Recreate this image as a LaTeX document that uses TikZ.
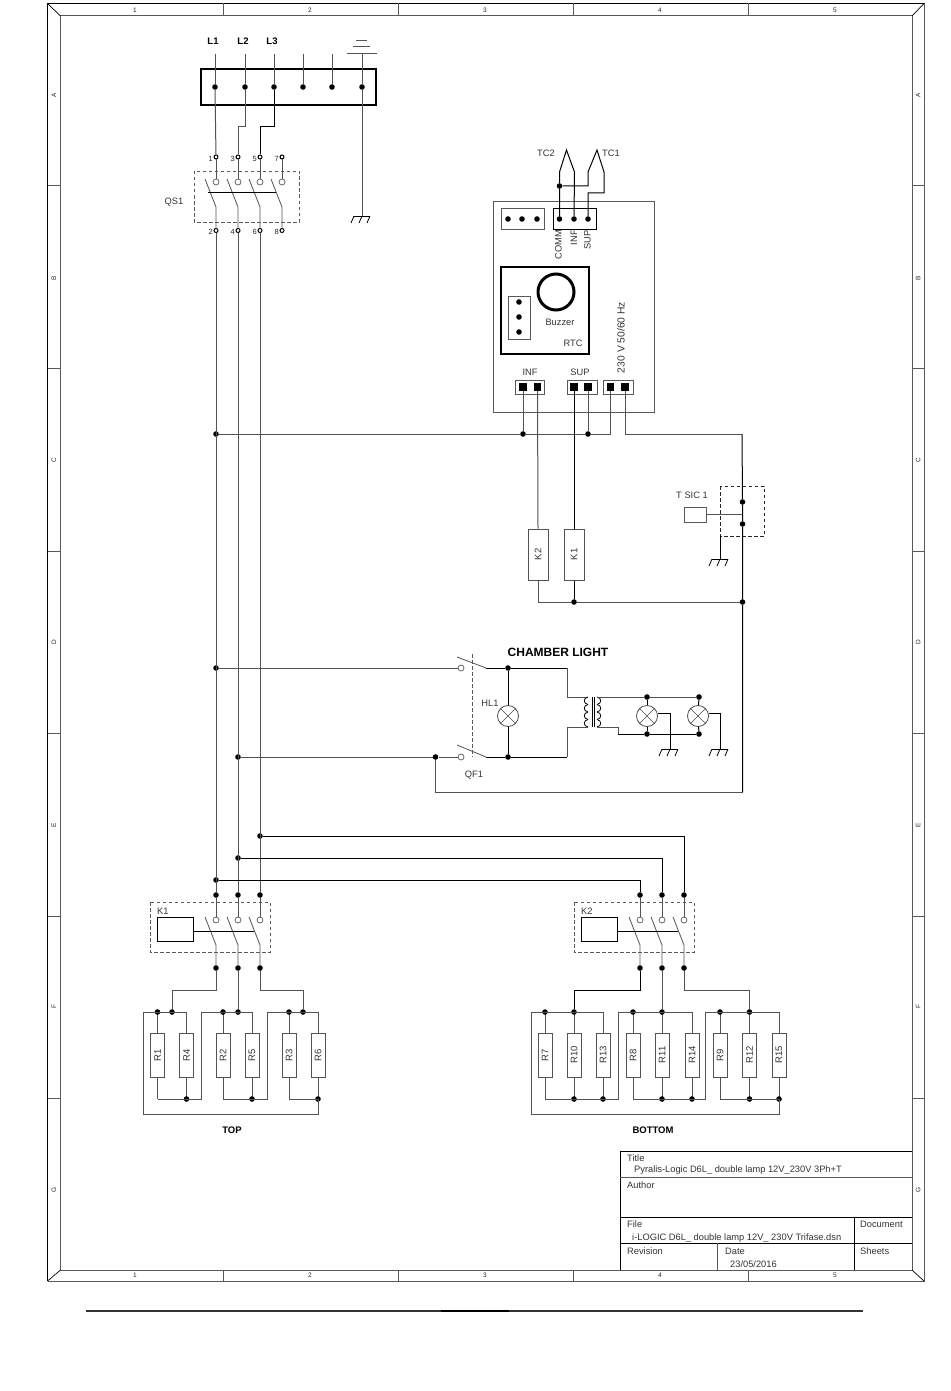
\documentclass[tikz,border=0pt]{standalone}
\usepackage{fontspec}
\setmainfont{Liberation Sans}
\begin{document}
\begin{tikzpicture}[x=1pt, y=-1pt]
  \tikzstyle{wire}=[line width=1pt, draw=black!68]
  \tikzstyle{wireb}=[line width=1pt, draw=black]
  \tikzstyle{frameline}=[line width=1pt, draw=black!65]
  \tikzstyle{dashbox}=[line width=.8pt, draw=black!65, dash pattern=on 3.5pt off 2.5pt]
  \tikzstyle{mydot}=[circle, fill=black, inner sep=0, minimum size=5.6pt]
  \tikzstyle{mypin}=[circle, draw=black, fill=white, line width=1pt, inner sep=0, minimum size=4pt]
  \tikzstyle{mycont}=[circle, draw=black!60, fill=white, line width=.8pt, inner sep=0, minimum size=6pt]
  \tikzstyle{mypad}=[rectangle, fill=black, inner sep=0, minimum size=7.5pt]
  \tikzstyle{myconn}=[rectangle, draw=black!65, line width=1pt, inner sep=0]
  \tikzstyle{myres}=[rectangle, draw=black!68, fill=white, line width=1pt, inner sep=0, rotate=90,
    minimum width=44pt, minimum height=14pt, text=black!80, font=\fontsize{9.5}{10}\selectfont]
  \tikzstyle{myrelay}=[myres, minimum width=51pt, minimum height=20pt]
  \tikzstyle{mylamp}=[circle, draw=black!70, line width=.8pt, fill=white, inner sep=0, minimum size=21pt]
  \tikzstyle{mytext}=[inner sep=0, text=black!80, font=\fontsize{9.3}{10}\selectfont]
  \tikzstyle{mybold}=[inner sep=0, text=black, font=\fontsize{9.5}{10}\selectfont\bfseries]
  \tikzstyle{mysmall}=[inner sep=0, text=black!85, font=\fontsize{6.5}{8}\selectfont]
  \tikzstyle{mynum}=[inner sep=0, text=black!85, font=\fontsize{7.5}{8}\selectfont]
  \useasboundingbox (0, 0) rectangle (950, 1391);

  % sheet frame
  \draw[line width=1.2pt] (47.5, 1281) -- (47.5, 3.5) -- (924, 3.5);
  \draw[frameline] (924, 3.5) -- (924, 1281) -- (47.5, 1281);
  \draw[frameline] (60.5, 16) rectangle (912, 1270);
  \draw[line width=.7pt] (47.5, 3.5) -- (60.5, 16);
  \draw[line width=.7pt] (924, 3.5) -- (912, 16);
  \draw[line width=.7pt] (47.5, 1281) -- (60.5, 1270);
  \draw[line width=.7pt] (924, 1281) -- (912, 1270);
  \foreach \x in {223, 398, 573, 748} {
    \draw[frameline] (\x, 3.5) -- (\x, 16);
    \draw[frameline] (\x, 1270) -- (\x, 1281);
  }
  \foreach \y in {186, 368, 551, 733, 916, 1098} {
    \draw[frameline] (47.5, \y) -- (60.5, \y);
    \draw[frameline] (912, \y) -- (924, \y);
  }
  \foreach \n/\x in {1/135, 2/310, 3/485, 4/660, 5/835} {
    \node[mysmall] (top-\n) at (\x, 10) {\n};
    \node[mysmall] (bot-\n) at (\x, 1275.5) {\n};
  }
  \foreach \n/\y in {A/95, B/278, C/460, D/642, E/825, F/1007, G/1190} {
    \node[mysmall, rotate=90] (left-\n) at (54, \y) {\n};
    \node[mysmall, rotate=90] (right-\n) at (918, \y) {\n};
  }
  \coordinate (rule-a) at (86, 1311);
  \coordinate (rule-b) at (863, 1311);
  \coordinate (rule-c) at (441, 1311);
  \coordinate (rule-d) at (509, 1311);
  \draw[line width=1.5pt, draw=black!80] (rule-a) -- (rule-b);
  \draw[line width=1.5pt] (rule-c) -- (rule-d);

  % title block
  \draw[line width=1pt] (912, 1151) -- (620, 1151) -- (620, 1270);
  \draw[frameline] (620, 1177) -- (912, 1177);
  \draw[line width=1pt] (620, 1217) -- (912, 1217);
  \draw[line width=1pt] (620, 1243) -- (912, 1243);
  \draw[line width=1pt] (854, 1217) -- (854, 1270);
  \draw[frameline] (717, 1243) -- (717, 1270);
  \node[mytext, anchor=west] (t-title) at (627, 1158) {Title};
  \node[mytext, anchor=west] (t-name) at (634, 1170.5) {Pyralis-Logic D6L\_ double lamp 12V\_230V 3Ph+T};
  \node[mytext, anchor=west] (t-author) at (627, 1185) {Author};
  \node[mytext, anchor=west] (t-file) at (627, 1224) {File};
  \node[mytext, anchor=west] (t-dsn) at (632, 1238) {i-LOGIC D6L\_ double lamp 12V\_ 230V Trifase.dsn};
  \node[mytext, anchor=west] (t-doc) at (860, 1224) {Document};
  \node[mytext, anchor=west] (t-rev) at (627, 1251) {Revision};
  \node[mytext, anchor=west] (t-date) at (725, 1251) {Date};
  \node[mytext, anchor=west] (t-day) at (730, 1264) {23/05/2016};
  \node[mytext, anchor=west] (t-sheet) at (860, 1251) {Sheets};

  % terminal block
  \draw[line width=2.4pt] (201, 69) rectangle (376, 105);
  \foreach \n/\x in {1/215, 2/245, 3/274, 4/303, 5/332, 6/362} {
    \node[mydot] (blk\n) at (\x, 87) {};
    \coordinate (in\n) at (\x, 54);
    \draw[wire] (in\n) -- (blk\n);
  }
  \node[mybold] (L1) at (213, 41) {L1};
  \node[mybold] (L2) at (243, 41) {L2};
  \node[mybold] (L3) at (272, 41) {L3};
  \draw[wire] (347, 54) -- (377, 54);
  \draw[wire] (353, 47) -- (370, 47);
  \draw[frameline, line width=.7pt] (356, 40) -- (367, 40);

  % earth symbols
  \foreach \n/\x/\y in {ea/362/216, eb/720/559, ec/670/749, ed/720/749} {
    \coordinate (\n) at (\x, \y);
    \draw[wireb, line width=.8pt] ({\x-8}, \y) -- ({\x+8}, \y);
    \foreach \d in {-8, 0, 8} {
      \draw[wireb, line width=.8pt] ({\x+\d}, \y) -- ({\x+\d-3}, {\y+7});
    }
  }
  \draw[wire] (blk6) -- (ea);

  % QS1
  \draw[dashbox] (194, 171) rectangle (299, 222);
  \node[mytext] (QS1) at (174, 202) {QS1};
  \foreach \n/\x/\a/\b in {1/216/1/2, 2/238/3/4, 3/260/5/6, 4/282/7/8} {
    \node[mypin] (qsa\n) at (\x, 157) {};
    \node[mypin] (qsb\n) at (\x, 230.5) {};
    \node[mycont] (qsc\n) at (\x, 182) {};
    \node[mynum, anchor=east] (qst\n) at ({\x-3}, 158.5) {\a};
    \node[mynum, anchor=east] (qsu\n) at ({\x-3}, 231.5) {\b};
    \coordinate (qsd\n) at (\x, 207);
    \draw[wire] (qsa\n) -- (qsc\n);
    \draw[wire, line width=.8pt] ({\x-11}, 179) -- (qsd\n) -- (qsb\n);
  }
  \draw[wireb] (208, 193) -- (276, 193);
  \draw[wire] (blk1) -- (qsa1);
  \draw[wire] (blk2) -- ++(0, 40) -| (qsa2);
  \draw[wireb] (blk3) -- ++(0, 40) -| (qsa3);

  % controller board
  \draw[myconn] (493, 201) rectangle (654, 412);
  \node[myconn, minimum width=43pt, minimum height=21pt] (con-a) at (522.5, 218.5) {};
  \node[myconn, draw=black, minimum width=43pt, minimum height=21pt] (con-b) at (574.5, 218.5) {};
  \foreach \n/\x in {a1/508, a2/522, a3/537, b1/559.5, b2/574, b3/588} {
    \node[mydot] (\n) at (\x, 219) {};
  }
  \node[mydot] (jtc) at (559.5, 186) {};
  \coordinate (tc2l) at (559.5, 172);
  \coordinate (tc2t) at (566.5, 150);
  \coordinate (tc2r) at (574.5, 172);
  \coordinate (tc1l) at (588, 172);
  \coordinate (tc1t) at (597, 150);
  \coordinate (tc1r) at (604, 172);
  \coordinate (tc1j) at (588, 186);
  \coordinate (tc1a) at (604, 193);
  \coordinate (tc1b) at (588, 193);
  \draw[wireb] (b1) -- (jtc) -- (tc2l) -- (tc2t) -- (tc2r) -- (b2);
  \draw[wireb] (b3) -- (tc1b) -- (tc1a) -- (tc1r) -- (tc1t) -- (tc1l) -- (tc1j) -- (jtc);
  \node[mytext] (TC2) at (546, 153) {TC2};
  \node[mytext] (TC1) at (611, 153) {TC1};
  \node[mytext, rotate=90, anchor=east] (l-comm) at (558.5, 230) {COMM};
  \node[mytext, rotate=90, anchor=east] (l-inf) at (574, 230) {INF};
  \node[mytext, rotate=90, anchor=east] (l-sup) at (587.5, 230) {SUP};
  \draw[line width=1.8pt] (501, 267) rectangle (589, 354);
  \node[circle, draw=black, line width=3pt, inner sep=0, minimum size=36pt] (buz) at (556, 292) {};
  \node[mytext] (l-buz) at (560, 322) {Buzzer};
  \node[mytext] (l-rtc) at (573, 343) {RTC};
  \node[myconn, minimum width=22pt, minimum height=43pt] (con-c) at (519, 317.5) {};
  \foreach \n/\y in {c1/302, c2/317, c3/332} {
    \node[mydot] (\n) at (519, \y) {};
  }
  \node[myconn, minimum width=29pt, minimum height=14pt] (con-i) at (529.5, 387) {};
  \node[myconn, minimum width=30pt, minimum height=14pt] (con-s) at (582, 387) {};
  \node[myconn, minimum width=30pt, minimum height=14pt] (con-p) at (618, 387) {};
  \foreach \n/\x in {pi1/523, pi2/537.5, ps1/574, ps2/588, pv1/610.5, pv2/625} {
    \node[mypad] (\n) at (\x, 387) {};
  }
  \node[mytext] (l-inf2) at (530, 372) {INF};
  \node[mytext] (l-sup2) at (580, 372) {SUP};
  \node[mytext, rotate=90, font=\fontsize{10.3}{11}\selectfont] (l-volt) at (621, 337.5) {230 V 50/60 Hz};

  % phases
  \node[mydot] (jl) at (216, 434) {};
  \node[mydot] (ji) at (523, 434) {};
  \node[mydot] (js) at (588, 434) {};
  \coordinate (rt) at (742, 434);
  \draw[wire] (jl) -- (ji) -- (js) -| (pv1);
  \draw[wire] (pi1) -- (ji);
  \draw[wire] (ps2) -- (js);
  \draw[wire] (pv2) |- (rt);

  % relays and T SIC
  \node[myrelay] (relK2) at (538, 554.5) {K2};
  \node[myrelay] (relK1) at (574, 554.5) {K1};
  \draw[wire] (pi2) -- (relK2.east);
  \draw[wireb] (ps1) -- (relK1.east);
  \node[mydot] (jk) at (574, 602) {};
  \node[mydot] (jr) at (742.5, 602) {};
  \node[mydot] (ja) at (742.5, 502) {};
  \node[mydot] (jb) at (742.5, 524) {};
  \draw[wire] (relK2.west) |- (jk) -- (jr);
  \draw[wireb] (relK1.west) -- (jk);
  \draw[dashbox, draw=black!85] (720, 486) rectangle (764, 536);
  \node[myconn, minimum width=22pt, minimum height=15pt] (tsic) at (695, 514.5) {};
  \node[mytext] (l-tsic) at (692, 495) {T SIC 1};
  \draw[wire] (tsic) -- (742.5, 514.5);
  \coordinate (eb-top) at (720, 536);
  \draw[wireb] (eb-top) -- (eb);

  % chamber light
  \node[mydot] (jh1) at (216, 668) {};
  \node[mydot] (jh2) at (238, 757) {};
  \node[mydot] (jq) at (435.5, 757) {};
  \node[mycont] (qf1) at (461, 668) {};
  \node[mycont] (qf2) at (461, 757) {};
  \coordinate (qfa) at (486, 668);
  \coordinate (qfb) at (486, 757);
  \node[mydot] (jla) at (508, 668) {};
  \node[mydot] (jlb) at (508, 757) {};
  \node[mylamp] (HL) at (508, 716) {};
  \coordinate (pri1) at (588, 697);
  \coordinate (pri2) at (588, 727);
  \coordinate (sec1) at (597, 697);
  \coordinate (sec2) at (597, 727);
  \draw[wire] (jh1) -- (qf1);
  \draw[wire] (jh2) -- (jq) -- (qf2);
  \draw[wire, line width=.8pt] (457, 657) -- (qfa);
  \draw[wire, line width=.8pt] (457, 745) -- (qfb);
  \draw[wireb] (qfa) -- (jla) -- (567, 668);
  \draw[wire] (567, 668) |- (pri1);
  \draw[wireb] (qfb) -- (jlb) -- (567, 757);
  \draw[wire] (567, 757) |- (pri2);
  \draw[wireb] (jla) -- (HL);
  \draw[wireb] (jlb) -- (HL);
  \foreach \y in {697, 704.5, 712, 719.5} {
    \draw[wireb, line width=.8pt] (588, \y) .. controls (583, {\y+1}) and (583, {\y+6.5}) .. (588, {\y+7.5});
    \draw[wireb, line width=.8pt] (597, \y) .. controls (602, {\y+1}) and (602, {\y+6.5}) .. (597, {\y+7.5});
  }
  \draw[wireb, line width=.7pt] (592, 697) -- (592, 727);
  \draw[wireb, line width=.7pt] (594, 697) -- (594, 727);
  \node[mylamp] (LA) at (647, 716) {};
  \node[mylamp] (LB) at (698, 716) {};
  \node[mydot] (jta) at (647, 697) {};
  \node[mydot] (jtb) at (699, 697) {};
  \node[mydot] (jua) at (647, 734) {};
  \node[mydot] (jub) at (699, 734) {};
  \draw[wire] (sec1) -- (jta) -- (jtb);
  \draw[wire] (sec2) -- (618, 727) -- (618, 734);
  \draw[wireb] (618, 734) -- (jua) -- (jub);
  \draw[wireb] (jta) -- (LA);
  \draw[wireb] (jua) -- (LA);
  \draw[wireb] (jtb) -- (LB);
  \draw[wireb] (jub) -- (LB);
  \foreach \n in {HL, LA, LB} {
    \draw[line width=.6pt, draw=black!70] (\n.45) -- (\n.225);
    \draw[line width=.6pt, draw=black!70] (\n.135) -- (\n.315);
  }
  \draw[wireb] (LA.15) -| (ec);
  \draw[wireb] (LB.15) -| (ed);
  \draw[dashbox] (472, 654) -- (472, 757);
  \node[mytext] (l-hl) at (490, 703) {HL1};
  \node[mytext] (l-qf) at (474, 775) {QF1};
  \node[mybold, font=\fontsize{12}{13}\selectfont\bfseries] (l-light) at (558, 652) {CHAMBER LIGHT};

  % return line
  \coordinate (rb) at (742.5, 792);
  \coordinate (lb) at (435.5, 792);
  \draw[wireb] (rt) -- (ja) -- (jb) -- (jr) -- (rb);
  \draw[wire] (rb) -- (lb) -- (jq);

  % phase lines
  \node[mydot] (j1) at (216, 880) {};
  \node[mydot] (j2) at (238, 858) {};
  \node[mydot] (j3) at (260, 836) {};
  \foreach \n/\x in {1/216, 2/238, 3/260} {
    \node[mydot] (K1a\n) at (\x, 895) {};
    \draw[wire] (qsb\n) -- (K1a\n);
  }
  \foreach \n/\x in {1/640, 2/662, 3/684} {
    \node[mydot] (K2a\n) at (\x, 895) {};
    \draw[wireb] (j\n) -| (K2a\n);
  }

  % contactors
  \foreach \k/\xa in {K1/216, K2/640} {
    \foreach \n/\d in {1/0, 2/22, 3/44} {
      \node[mycont] (\k c\n) at ({\xa+\d}, 920) {};
      \node[mydot] (\k b\n) at ({\xa+\d}, 968) {};
      \coordinate (\k d\n) at ({\xa+\d}, 945);
      \draw[wire] (\k a\n) -- (\k c\n);
      \draw[wire, line width=.8pt] ({\xa+\d-11}, 917) -- (\k d\n) -- (\k b\n);
    }
    \draw[dashbox] ({\xa-66}, 902) rectangle ({\xa+54}, 952);
    \node[myconn, draw=black, minimum width=36pt, minimum height=24pt] (coil\k) at ({\xa-41}, 929) {};
    \node[mytext, anchor=west] (l-\k) at ({\xa-59}, 911) {\k};
    \draw[wireb] (coil\k.east |- 0, 931) -- ({\xa+38}, 931);
  }

  % heaters
  \foreach \n/\x in {R1/157.5, R4/186.5, R2/223, R5/252, R3/289, R6/318,
      R7/545, R10/574, R13/603, R8/633, R11/662, R14/692, R9/720, R12/749.5, R15/779} {
    \node[myres] (\n) at (\x, 1055) {\n};
    \coordinate (\n-t) at (\x, 1012);
    \coordinate (\n-b) at (\x, 1099);
    \draw[wire] (\n-t) -- (\n.east);
    \draw[wire] (\n.west) -- (\n-b);
  }
  \coordinate (Kf1) at (172, 1012);
  \coordinate (Kf2) at (238, 1012);
  \coordinate (Kf3) at (303, 1012);
  \foreach \n in {Kf1, Kf2, Kf3, R1-t, R2-t, R3-t, R4-b, R5-b, R6-b,
      R7-t, R10-t, R8-t, R11-t, R9-t, R12-t, R10-b, R13-b, R11-b, R14-b, R12-b, R15-b} {
    \node[mydot] (d\n) at (\n) {};
  }
  \draw[wire] (K1b1) -- ++(0, 22) -| (dKf1);
  \draw[wire] (K1b2) -- (dKf2);
  \draw[wire] (K1b3) -- ++(0, 22) -| (dKf3);
  \draw[wireb] (K2b1) -- ++(0, 22) -| (dR10-t);
  \draw[wire] (K2b2) -- (dR11-t);
  \draw[wire] (K2b3) -- ++(0, 22) -| (dR12-t);
  \draw[wire] (R4-t) -- (R1-t) -- (143, 1012) -- (143, 1114) -- (318, 1114) -- (R6-b);
  \draw[wire] (R5-t) -- (R2-t) -- (201, 1012) -- (201, 1099) -- (R1-b);
  \draw[wire] (R6-t) -- (R3-t) -- (267, 1012) -- (267, 1099) -- (R2-b);
  \draw[wire] (R3-b) -- (R6-b);
  \draw[wire] (R13-t) -- (R7-t) -- (531, 1012) -- (531, 1114) -- (779, 1114) -- (R15-b);
  \draw[wire] (R14-t) -- (R8-t) -- (618, 1012) -- (618, 1099) -- (R7-b);
  \draw[wire] (R15-t) -- (R9-t) -- (705, 1012) -- (705, 1099) -- (R8-b);
  \draw[wire] (R9-b) -- (R15-b);
  \node[mybold] (l-top) at (232, 1130) {TOP};
  \node[mybold] (l-bottom) at (653, 1130) {BOTTOM};
\end{tikzpicture}
\end{document}
